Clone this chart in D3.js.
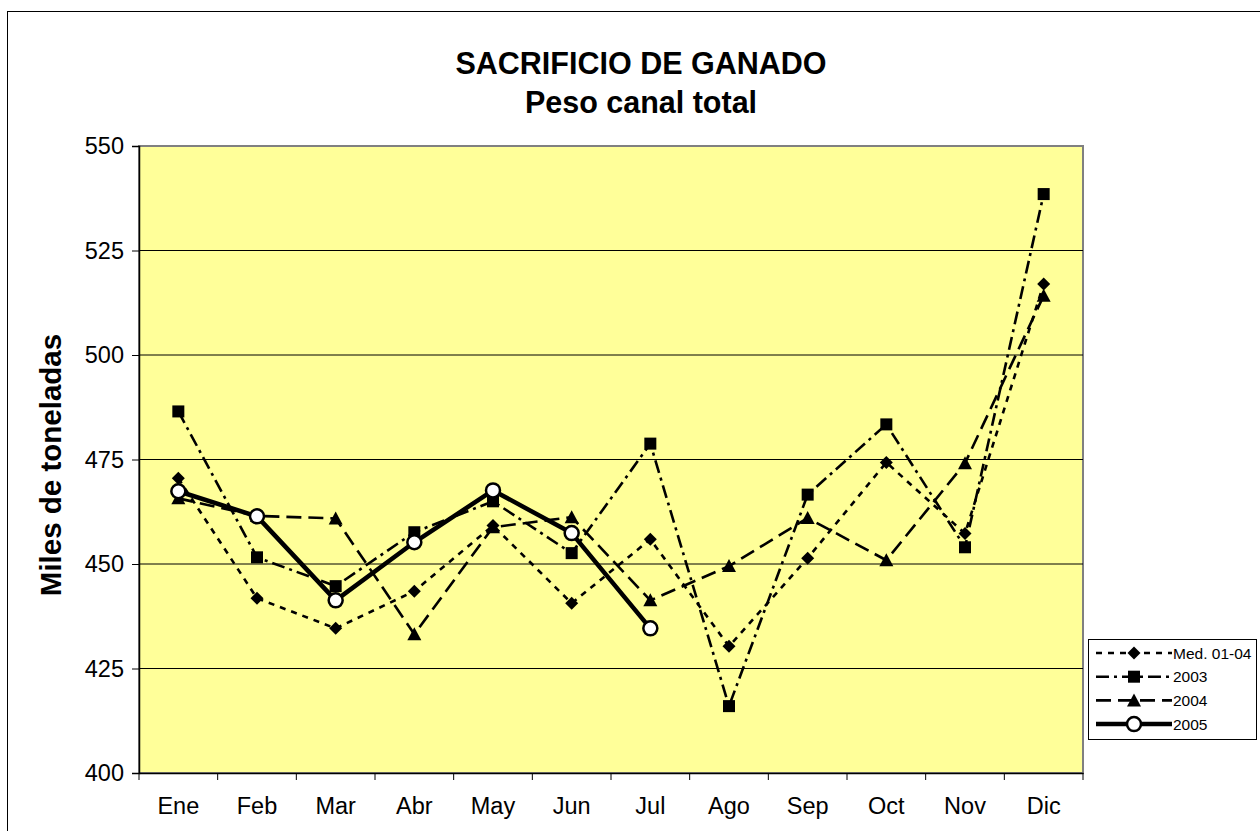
<!DOCTYPE html>
<html>
<head>
<meta charset="utf-8">
<script src="https://cdnjs.cloudflare.com/ajax/libs/d3/7.8.5/d3.min.js"></script>
<style>
  body { margin: 0; background: #fff; }
  svg { display: block; font-family: "Liberation Sans", Arial, sans-serif; }
</style>
</head>
<body>
<svg id="chart" width="1260" height="831"></svg>
<script>
// ******************* DATA *******************
const months = ["Ene", "Feb", "Mar", "Abr", "May", "Jun", "Jul", "Ago", "Sep", "Oct", "Nov", "Dic"]
const med0104 = [470.5, 441.8, 434.6, 443.5, 459.2, 440.6, 455.9, 430.3, 451.4, 474.3, 457.3, 517.0]
const y2003 = [486.5, 451.6, 444.7, 457.6, 465.0, 452.6, 478.8, 416.0, 466.6, 483.4, 454.0, 538.5]
const y2004 = [465.7, 461.5, 460.9, 433.2, 458.8, 461.2, 441.3, 449.5, 461.0, 450.9, 474.1, 514.2]
const y2005 = [467.4, 461.4, 441.3, 455.2, 467.6, 457.4, 434.6]
const yTicks = [400, 425, 450, 475, 500, 525, 550]

const series = [
  { name: "Med. 01-04", values: med0104, dash: "6,6", width: 2.6, marker: "diamond" },
  { name: "2003", values: y2003, dash: "13,5,3,5", width: 2.6, marker: "square" },
  { name: "2004", values: y2004, dash: "15,7", width: 2.6, marker: "triangle" },
  { name: "2005", values: y2005, dash: null, width: 4.5, marker: "circle" }
]

// ******************* LAYOUT *******************
const plot = { left: 139, right: 1083, top: 146, bottom: 773 }

const svg = d3.select("#chart")

// outer chart border
svg.append("rect")
  .attr("x", 7.5).attr("y", 11.5)
  .attr("width", 1280).attr("height", 840)
  .attr("fill", "#fff")
  .attr("stroke", "#000")
  .attr("stroke-width", 1)

let x = d3.scaleBand()
  .domain(months)
  .range([plot.left, plot.right])

let y = d3.scaleLinear()
  .domain([400, 550])
  .range([plot.bottom, plot.top])

let cx = function(i) { return x(months[i]) + x.bandwidth() / 2 }

// plot area
svg.append("rect")
  .attr("x", plot.left).attr("y", plot.top)
  .attr("width", plot.right - plot.left)
  .attr("height", plot.bottom - plot.top)
  .attr("fill", "#FFFF99")
  .attr("stroke", "#808080")
  .attr("stroke-width", 2)

// gridlines
svg.append("g")
  .selectAll("line")
  .data(yTicks.slice(1, -1))
  .enter()
  .append("line")
  .attr("x1", plot.left).attr("x2", plot.right)
  .attr("y1", d => y(d)).attr("y2", d => y(d))
  .attr("stroke", "#000")
  .attr("stroke-width", 1)

// y axis
let yAxis = d3.axisLeft(y)
  .tickValues(yTicks)
  .tickSize(7)
  .tickPadding(8)

let yG = svg.append("g")
  .attr("transform", "translate(" + plot.left + ",0)")
  .call(yAxis)
yG.select(".domain").attr("stroke", "#000").attr("stroke-width", 1.5)
yG.selectAll("text").attr("font-size", 23.5).attr("fill", "#000").attr("font-family", "Liberation Sans, Arial, sans-serif")

// x axis: ticks at category boundaries
let xAxis = d3.axisBottom(x).tickSize(0).tickPadding(24)
let xG = svg.append("g")
  .attr("transform", "translate(0," + plot.bottom + ")")
  .call(xAxis)
xG.select(".domain").attr("stroke", "#000").attr("stroke-width", 1.5)
xG.selectAll("text").attr("font-size", 23.5).attr("fill", "#000").attr("font-family", "Liberation Sans, Arial, sans-serif")

xG.selectAll(".boundary")
  .data(d3.range(months.length + 1))
  .enter()
  .append("line")
  .attr("x1", i => plot.left + i * x.step())
  .attr("x2", i => plot.left + i * x.step())
  .attr("y1", 0).attr("y2", 7)
  .attr("stroke", "#000")
  .attr("stroke-width", 1)

// ******************* MARKERS *******************
function drawMarker(g, type, px, py) {
  if (type === "diamond") {
    g.append("path")
      .attr("d", "M" + px + "," + (py - 6.5) + "L" + (px + 6.5) + "," + py + "L" + px + "," + (py + 6.5) + "L" + (px - 6.5) + "," + py + "Z")
      .attr("fill", "#000")
  } else if (type === "square") {
    g.append("rect")
      .attr("x", px - 6).attr("y", py - 6)
      .attr("width", 12).attr("height", 12)
      .attr("fill", "#000")
  } else if (type === "triangle") {
    g.append("path")
      .attr("d", "M" + px + "," + (py - 7) + "L" + (px + 7) + "," + (py + 6) + "L" + (px - 7) + "," + (py + 6) + "Z")
      .attr("fill", "#000")
  } else {
    g.append("circle")
      .attr("cx", px).attr("cy", py).attr("r", 7)
      .attr("fill", "#fff")
      .attr("stroke", "#000")
      .attr("stroke-width", 2.5)
  }
}

let line = d3.line()
  .x((d, i) => cx(i))
  .y(d => y(d))

series.forEach(function(s) {
  let g = svg.append("g")
  g.append("path")
    .datum(s.values)
    .attr("d", line)
    .attr("fill", "none")
    .attr("stroke", "#000")
    .attr("stroke-width", s.width)
    .attr("stroke-dasharray", s.dash)
    .attr("stroke-linejoin", "round")
  s.values.forEach(function(v, i) {
    drawMarker(g, s.marker, cx(i), y(v))
  })
})

// ******************* TITLES *******************
svg.append("text")
  .attr("x", 641).attr("y", 74)
  .attr("text-anchor", "middle")
  .attr("font-size", 30.5)
  .attr("font-weight", "bold")
  .text("SACRIFICIO DE GANADO")

svg.append("text")
  .attr("x", 641).attr("y", 113)
  .attr("text-anchor", "middle")
  .attr("font-size", 30.5)
  .attr("font-weight", "bold")
  .text("Peso canal total")

svg.append("text")
  .attr("transform", "translate(61,465) rotate(-90)")
  .attr("text-anchor", "middle")
  .attr("font-size", 29.5)
  .attr("font-weight", "bold")
  .text("Miles de toneladas")

// ******************* LEGEND *******************
let legend = svg.append("g")
legend.append("rect")
  .attr("x", 1088.5).attr("y", 639.5)
  .attr("width", 168).attr("height", 100)
  .attr("fill", "#fff")
  .attr("stroke", "#000")
  .attr("stroke-width", 1)

series.forEach(function(s, i) {
  let ly = 653 + i * 23.7
  legend.append("line")
    .attr("x1", 1096).attr("x2", 1172)
    .attr("y1", ly).attr("y2", ly)
    .attr("stroke", "#000")
    .attr("stroke-width", s.width)
    .attr("stroke-dasharray", s.dash)
  drawMarker(legend, s.marker, 1134, ly)
  legend.append("text")
    .attr("x", 1173).attr("y", ly + 5.5)
    .attr("font-size", 15.5)
    .text(s.name)
})
</script>
</body>
</html>
